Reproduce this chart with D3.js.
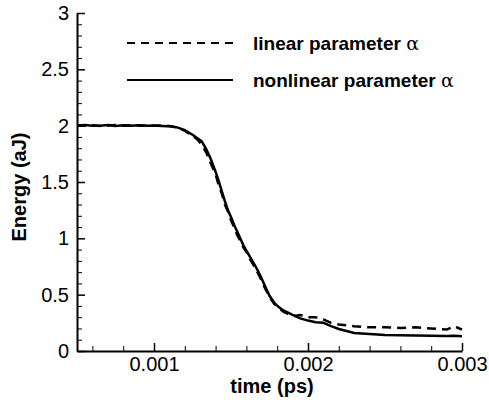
<!DOCTYPE html>
<html>
<head>
<meta charset="utf-8">
<script src="https://cdn.jsdelivr.net/npm/d3@7"></script>
<style>
  body { margin: 0; background: #fff; }
  text { font-family: "Liberation Sans", Arial, sans-serif; }
</style>
</head>
<body>
<svg id="chart" width="489" height="400"></svg>
<script>
// time in ps, energy in aJ
const time = [0.00050, 0.00055, 0.00060, 0.00065, 0.00070, 0.00075, 0.00080, 0.00085, 0.00090, 0.00095,
              0.00100, 0.00105, 0.00110, 0.00115, 0.00120, 0.00125, 0.00128, 0.00131, 0.00134, 0.00137,
              0.00140, 0.00142, 0.00144, 0.00146, 0.00148, 0.00150, 0.00152, 0.00154, 0.00156, 0.00158,
              0.00160, 0.00163, 0.00166, 0.00169, 0.00172, 0.00175, 0.00178, 0.00181, 0.00184, 0.00187,
              0.00190, 0.00195, 0.00200, 0.00205, 0.00210, 0.00215, 0.00220, 0.00230, 0.00240, 0.00250,
              0.00260, 0.00270, 0.00280, 0.00290, 0.00295, 0.00300];

const nonlinear = [2.000, 2.005, 2.000, 2.000, 2.005, 1.998, 2.003, 2.000, 2.004, 2.000,
                   2.002, 1.998, 1.995, 1.985, 1.960, 1.920, 1.890, 1.860, 1.790, 1.700,
                   1.590, 1.510, 1.420, 1.330, 1.250, 1.190, 1.120, 1.060, 1.000, 0.940,
                   0.890, 0.820, 0.750, 0.670, 0.580, 0.490, 0.430, 0.390, 0.360, 0.340,
                   0.320, 0.290, 0.270, 0.255, 0.250, 0.220, 0.195, 0.160, 0.150, 0.142,
                   0.140, 0.137, 0.135, 0.133, 0.135, 0.130];

const linear = [2.003, 2.000, 2.004, 1.998, 2.002, 2.005, 1.999, 2.003, 2.000, 2.002,
                2.000, 2.001, 1.996, 1.985, 1.955, 1.910, 1.880, 1.830, 1.760, 1.660,
                1.570, 1.470, 1.400, 1.300, 1.240, 1.160, 1.100, 1.030, 0.980, 0.920,
                0.880, 0.800, 0.730, 0.650, 0.560, 0.480, 0.420, 0.380, 0.350, 0.330,
                0.310, 0.320, 0.300, 0.300, 0.280, 0.250, 0.235, 0.220, 0.210, 0.210,
                0.205, 0.210, 0.200, 0.190, 0.220, 0.190];

const xTicks = [0.001, 0.002, 0.003];
const yTicks = [0, 0.5, 1, 1.5, 2, 2.5, 3];
const legendLabels = ["linear parameter ", "nonlinear parameter "];

const svg = d3.select("#chart");

const x = d3.scaleLinear().domain([0.0005, 0.003]).range([77, 462]);
const y = d3.scaleLinear().domain([0, 3]).range([351, 13]);

// minor ticks
const xMinor = d3.range(0.0006, 0.00301, 0.0002).filter(t => Math.abs(t * 1000 - Math.round(t * 1000)) > 1e-6);
const yMinor = d3.range(0, 3.001, 0.1).filter(v => Math.abs(v * 2 - Math.round(v * 2)) > 1e-6);

svg.append("g")
   .attr("transform", `translate(0,${y(0)})`)
   .call(d3.axisBottom(x).tickValues(xMinor).tickSize(-5).tickFormat(""))
   .call(g => g.select(".domain").remove());
svg.append("g")
   .attr("transform", `translate(${x(0.0005)},0)`)
   .call(d3.axisLeft(y).tickValues(yMinor).tickSize(-5).tickFormat(""))
   .call(g => g.select(".domain").remove());

const xAxis = svg.append("g")
   .attr("transform", `translate(0,${y(0)})`)
   .call(d3.axisBottom(x).tickValues(xTicks).tickSize(-8).tickSizeOuter(0).tickPadding(6).tickFormat(d3.format(".3f")));
const yAxis = svg.append("g")
   .attr("transform", `translate(${x(0.0005)},0)`)
   .call(d3.axisLeft(y).tickValues(yTicks).tickSize(-8).tickSizeOuter(0).tickPadding(8).tickFormat(d => d));

[xAxis, yAxis].forEach(g => {
  g.selectAll("text").attr("font-size", 20).attr("fill", "#000").attr("font-family", "Liberation Sans, Arial, sans-serif");
  g.selectAll("line").attr("stroke", "#000").attr("stroke-width", 1.5);
  g.select(".domain").attr("stroke", "#000").attr("stroke-width", 2);
});

// curves
const line = d3.line()
   .x((d, i) => x(time[i]))
   .y(d => y(d));

svg.append("path")
   .datum(linear)
   .attr("fill", "none")
   .attr("stroke", "#000")
   .attr("stroke-width", 2.5)
   .attr("stroke-dasharray", "9,6")
   .attr("d", line);

svg.append("path")
   .datum(nonlinear)
   .attr("fill", "none")
   .attr("stroke", "#000")
   .attr("stroke-width", 2.5)
   .attr("d", line);

// axis titles
svg.append("text")
   .attr("x", 272).attr("y", 393)
   .attr("text-anchor", "middle")
   .attr("font-size", 20).attr("font-weight", "bold")
   .text("time (ps)");

svg.append("text")
   .attr("transform", "translate(26,187) rotate(-90)")
   .attr("text-anchor", "middle")
   .attr("font-size", 20).attr("font-weight", "bold")
   .text("Energy (aJ)");

// legend
const legendY = [43, 80];
legendLabels.forEach((lab, i) => {
  svg.append("line")
     .attr("x1", 127).attr("x2", 233)
     .attr("y1", legendY[i]).attr("y2", legendY[i])
     .attr("stroke", "#000").attr("stroke-width", 2)
     .attr("stroke-dasharray", i === 0 ? "8,6" : null);
  const t = svg.append("text")
     .attr("x", 253).attr("y", legendY[i] + 7)
     .attr("font-size", 19).attr("font-weight", "bold");
  t.append("tspan").text(lab);
  t.append("tspan").attr("font-weight", "normal").attr("font-family", "DejaVu Serif, serif").text("α");
});
</script>
</body>
</html>
